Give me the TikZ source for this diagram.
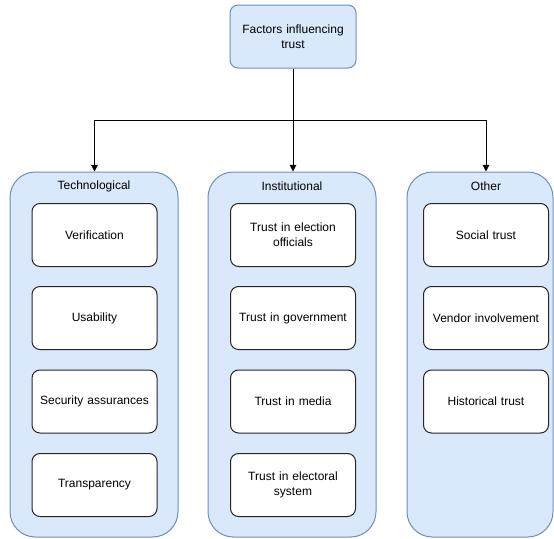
\documentclass[tikz,border=0pt]{standalone}
\usepackage{fontspec}
\setmainfont{Liberation Sans}
\usepackage{xcolor}
\usetikzlibrary{arrows.meta, positioning}

\definecolor{grpfill}{HTML}{DAE8FC}
\definecolor{grpline}{HTML}{6C8EBF}

\begin{document}
\begin{tikzpicture}[
    x=0.75pt, y=-0.75pt,
    every node/.style={font=\fontsize{9}{11.25}\selectfont, align=center},
    rootbox/.style={draw=grpline, fill=grpfill, rounded corners=6pt, line width=0.75pt,
      minimum width=94.5pt, minimum height=47.25pt, inner sep=0pt, text width=90pt},
    group/.style={draw=grpline, fill=grpfill, rounded corners=19pt, line width=0.75pt,
      minimum height=273.75pt, inner sep=0pt},
    grouplabel/.style={inner sep=0pt},
    factor/.style={draw=black!85, fill=white, rounded corners=6pt, line width=0.75pt,
      minimum width=93.75pt, minimum height=47.25pt, inner sep=0pt, text width=90pt},
    arr/.style={-{Triangle[length=5pt, width=5pt]}, line width=0.75pt},
  ]
    \useasboundingbox (0,0) rectangle (554,539);

    % ── root ──
    \node[rootbox] (root) at (293, 36.5) {Factors influencing\\trust};

    % ── groups ──
    \node[group, minimum width=126pt] (tech) at (94, 354.5) {};
    \node[group, minimum width=126pt] (inst) at (292, 354.5) {};
    \node[group, minimum width=109.5pt] (other) at (480, 354.5) {};
    \node[grouplabel] (tech-lbl) at (94, 186) {Technological};
    \node[grouplabel] (inst-lbl) at (292, 186) {Institutional};
    \node[grouplabel] (other-lbl) at (486, 186) {Other};

    % ── Technological ──
    \node[factor] (t1) at (94.5, 235) {Verification};
    \node[factor] (t2) at (94.5, 318) {Usability};
    \node[factor] (t3) at (94.5, 401.5) {Security assurances};
    \node[factor] (t4) at (94.5, 485) {Transparency};

    % ── Institutional ──
    \node[factor] (i1) at (293, 235) {Trust in election\\officials};
    \node[factor] (i2) at (293, 318) {Trust in government};
    \node[factor] (i3) at (293, 401.5) {Trust in media};
    \node[factor] (i4) at (293, 485) {Trust in electoral\\system};

    % ── Other ──
    \node[factor] (o1) at (486, 235) {Social trust};
    \node[factor] (o2) at (486, 318) {Vendor involvement};
    \node[factor] (o3) at (486, 401.5) {Historical trust};

    % Connectors
    \coordinate (bus) at (293, 120);
    \draw[line width=0.75pt] (root.south) -- (bus);
    \draw[arr] (bus) -| (t1.north |- tech.north);
    \draw[arr] (bus) -- (i1.north |- inst.north);
    \draw[arr] (bus) -| (o1.north |- other.north);
  \end{tikzpicture}
\end{document}
